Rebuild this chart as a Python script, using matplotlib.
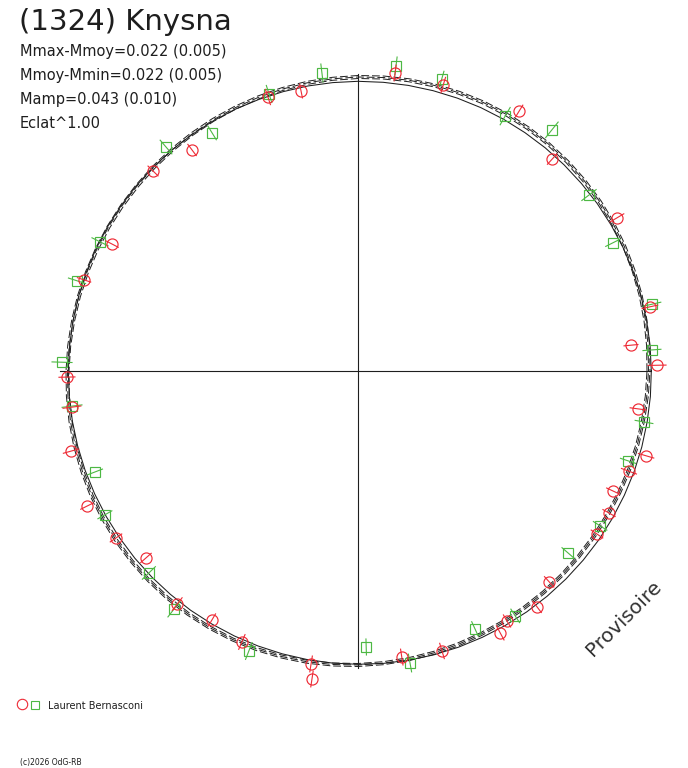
import numpy as np
import matplotlib
matplotlib.use("Agg")
import matplotlib.pyplot as plt

# model curves, radius (in plot units) every 5 degrees
curve_angles = list(range(0, 360, 5))
solid_r = [293.3, 293.2, 293.0, 292.8, 292.6, 292.4, 292.2, 292.0, 291.7, 291.5,
           291.3, 291.0, 290.8, 290.6, 290.4, 290.2, 290.0, 289.8, 289.7, 289.5,
           289.4, 289.2, 289.1, 289.1, 289.0, 288.9, 288.9, 288.9, 288.9, 288.9,
           289.0, 289.1, 289.1, 289.2, 289.4, 289.5, 289.7, 289.8, 290.0, 290.2,
           290.4, 290.6, 290.8, 291.0, 291.3, 291.5, 291.7, 292.0, 292.2, 292.4,
           292.6, 292.8, 293.0, 293.2, 293.3, 293.5, 293.6, 293.8, 293.9, 293.9,
           294.0, 294.1, 294.1, 294.1, 294.1, 294.1, 294.0, 293.9, 293.9, 293.8,
           293.6, 293.5]
dashed_r = [290.5, 291.2, 291.9, 292.6, 293.3, 294.0, 294.6, 295.2, 295.6, 296.0,
            296.3, 296.4, 296.4, 296.3, 296.0, 295.6, 295.2, 294.6, 294.0, 293.3,
            292.6, 291.9, 291.2, 290.5, 289.9, 289.3, 288.9, 288.5, 288.2, 288.1,
            288.1, 288.2, 288.5, 288.9, 289.3, 289.9,
            290.5, 291.2, 291.9, 292.6, 293.3, 294.0, 294.6, 295.2, 295.6, 296.0,
            296.3, 296.4, 296.4, 296.3, 296.0, 295.6, 295.2, 294.6, 294.0, 293.3,
            292.6, 291.9, 291.2, 290.5, 289.9, 289.3, 288.9, 288.5, 288.2, 288.1,
            288.1, 288.2, 288.5, 288.9, 289.3, 289.9]
dashed_shift = [-1.5, 0.0, 1.5]

# observations: phase angle (deg), radius, error
red_ang = [82.9, 73.4, 101.5, 108.2, 58.2, 47.5, 30.6, 126.9, 135.7, 152.7,
           161.6, 12.4, 5.4, 1.1, 181.2, 187.2, 195.6, 206.5, 214.6, 221.4,
           232.2, 239.6, 246.8, 260.9, 261.5, 278.7, 286.7, 352.3, 343.6, 339.7,
           334.8, 330.5, 325.7, 312.2, 307.2, 300.8, 298.5]
red_r = [300.3, 298.4, 285.7, 288.4, 305.8, 287.4, 300.8, 276.4, 286.4, 276.8,
         288.7, 298.9, 274.2, 299.1, 291.1, 288.3, 297.9, 302.8, 294.0, 282.7,
         295.0, 288.6, 294.8, 296.7, 311.4, 289.4, 292.3, 282.6, 300.3, 288.9,
         281.8, 288.4, 289.3, 284.6, 296.2, 291.0, 298.0]
red_err = [8, 8, 7, 8, 7, 7, 8, 7, 7, 7,
           7, 8, 7, 9, 8, 9, 8, 7, 7, 7,
           8, 7, 8, 8, 8, 8, 8, 8, 8, 8,
           7, 7, 7, 7, 7, 7, 8]

green_ang = [96.9, 82.9, 74.0, 107.8, 60.0, 51.2, 37.3, 26.7, 121.5, 130.6,
             153.4, 162.2, 12.8, 4.1, 178.3, 187.0, 201.0, 209.6, 224.0, 232.3,
             248.7, 271.7, 280.1, 349.9, 341.6, 327.4, 319.1, 302.7, 294.4]
green_r = [300.2, 307.4, 303.8, 290.9, 294.3, 309.4, 290.4, 285.3, 279.2, 295.0,
           288.5, 295.1, 301.5, 294.7, 296.1, 288.1, 281.7, 291.1, 290.7, 300.8,
           300.5, 276.1, 296.6, 290.5, 284.6, 287.4, 277.9, 291.0, 283.3]
green_err = [9, 9, 8, 9, 10, 10, 9, 8, 8, 9,
             9, 9, 9, 9, 10, 10, 8, 8, 9, 10,
             9, 8, 9, 9, 8, 8, 8, 8, 8]

info_lines = ["Mmax-Mmoy=0.022 (0.005)", "Mmoy-Mmin=0.022 (0.005)",
              "Mamp=0.043 (0.010)", "Eclat^1.00"]

RED = "#ee2a35"
GREEN = "#4db843"
INK = "#1e1e1e"

W, H = 688, 768
CX, CY = 358, 371


def to_xy(ang, r):
    a = np.radians(np.asarray(ang, dtype=float))
    r = np.asarray(r, dtype=float)
    return r * np.cos(a), r * np.sin(a)


fig = plt.figure(figsize=(W / 100, H / 100), dpi=100)
ax = fig.add_axes([0, 0, 1, 1])
ax.set_xlim(-CX, W - CX)
ax.set_ylim(-(H - CY), CY)
ax.axis("off")

# axes cross
ax.plot([-298, 292], [0, 0], color=INK, lw=0.8)
ax.plot([0, 0], [-297, 297], color=INK, lw=0.8)

# model curves
ang_closed = curve_angles + [curve_angles[0]]
for k, dr in enumerate(dashed_shift):
    rr = [v + dr for v in dashed_r] + [dashed_r[0] + dr]
    x, y = to_xy(ang_closed, rr)
    ax.plot(x, y, color=INK, lw=0.7, linestyle=(k * 3, (8, 3)))
x, y = to_xy(ang_closed, solid_r + [solid_r[0]])
ax.plot(x, y, color=INK, lw=0.75)


def draw_obs(ang, r, err, color, marker, ms):
    for a, rv, e in zip(ang, r, err):
        xs, ys = to_xy([a, a], [rv - e, rv + e])
        ax.plot(xs, ys, color=color, lw=0.8)
    x, y = to_xy(ang, r)
    ax.plot(x, y, linestyle="none", marker=marker, ms=ms, mfc="none",
            mec=color, mew=0.85)


draw_obs(green_ang, green_r, green_err, GREEN, "s", 7)
draw_obs(red_ang, red_r, red_err, RED, "o", 8)

# texts
fig.text(19 / W, 1 - 30 / H, "(1324) Knysna", fontsize=21, color=INK,
         va="baseline", ha="left")
for i, line in enumerate(info_lines):
    fig.text(20 / W, 1 - (56 + 24 * i) / H, line, fontsize=10.5, color=INK,
             va="baseline", ha="left")

ax.plot([22 / W], [1 - 704 / H], "o", ms=7.5, mfc="none", mec=RED, mew=0.8,
        transform=ax.transAxes)
ax.plot([35 / W], [1 - 705 / H], "s", ms=5.5, mfc="none", mec=GREEN, mew=0.8,
        transform=ax.transAxes)
fig.text(48 / W, 1 - 706 / H, "Laurent Bernasconi", fontsize=7, color=INK,
         va="center", ha="left")
fig.text(20 / W, 1 - 763 / H, "(c)2026 OdG-RB", fontsize=5.5, color=INK,
         va="center", ha="left")
fig.text(624 / W, 1 - 618 / H, "Provisoire", fontsize=14.5, color="#333333",
         rotation=45, ha="center", va="center")

fig.savefig("out.png", dpi=100)
